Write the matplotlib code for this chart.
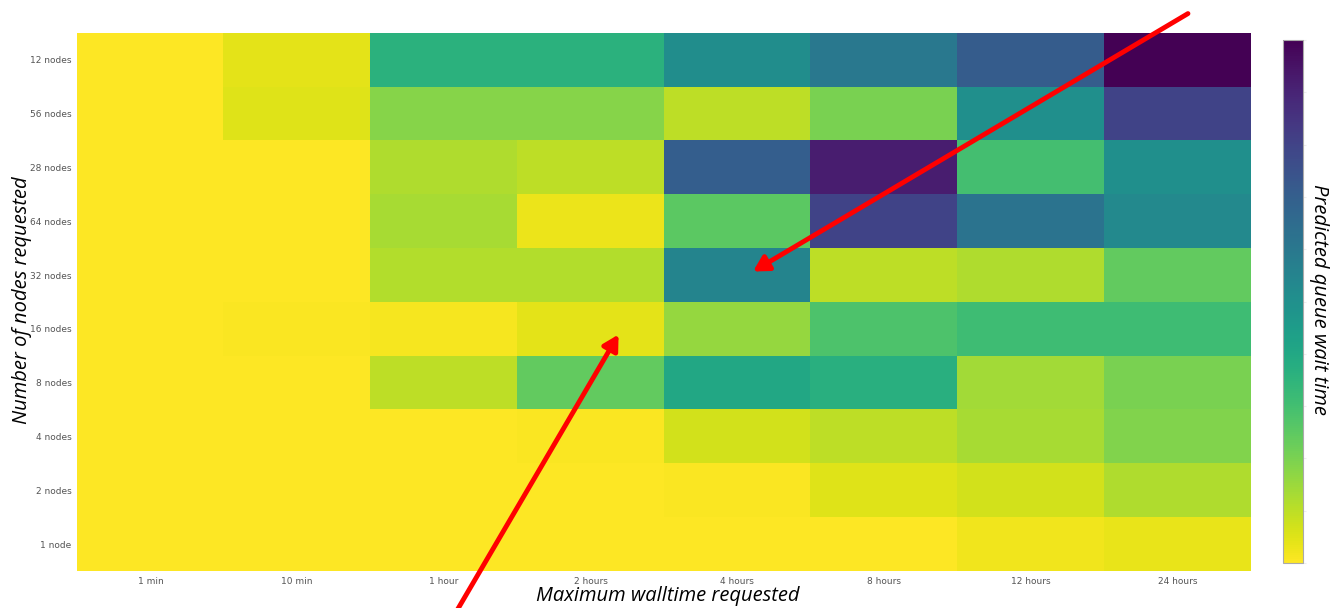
import numpy as np
import matplotlib.pyplot as plt

# walltime columns, node rows (top to bottom as shown)
walltimes = ['1 min', '10 min', '1 hour', '2 hours', '4 hours', '8 hours', '12 hours', '24 hours']
nodes = ['12 nodes', '56 nodes', '28 nodes', '64 nodes', '32 nodes',
         '16 nodes', '8 nodes', '4 nodes', '2 nodes', '1 node']

# relative predicted wait (0 = short/yellow, 1 = long/purple), one list per row
wait_12 = [0.00, 0.04, 0.36, 0.36, 0.51, 0.60, 0.71, 1.00]
wait_56 = [0.00, 0.05, 0.18, 0.18, 0.10, 0.20, 0.50, 0.80]
wait_28 = [0.00, 0.00, 0.12, 0.10, 0.70, 0.92, 0.30, 0.50]
wait_64 = [0.00, 0.00, 0.13, 0.03, 0.25, 0.80, 0.62, 0.53]
wait_32 = [0.00, 0.00, 0.115, 0.115, 0.55, 0.10, 0.12, 0.24]
wait_16 = [0.00, 0.005, 0.015, 0.04, 0.16, 0.28, 0.31, 0.31]
wait_8 = [0.00, 0.00, 0.10, 0.24, 0.40, 0.37, 0.14, 0.20]
wait_4 = [0.00, 0.00, 0.00, 0.005, 0.07, 0.10, 0.13, 0.19]
wait_2 = [0.00, 0.00, 0.00, 0.00, 0.005, 0.05, 0.07, 0.12]
wait_1 = [0.00, 0.00, 0.00, 0.00, 0.00, 0.00, 0.02, 0.035]

grid = np.array([wait_12, wait_56, wait_28, wait_64, wait_32,
                 wait_16, wait_8, wait_4, wait_2, wait_1])

fig = plt.figure(figsize=(13.3, 6.08), dpi=100)
ax = fig.add_axes([0.0579, 0.0609, 0.8827, 0.8848])
im = ax.imshow(grid, cmap='viridis_r', vmin=0, vmax=1, aspect='auto',
               interpolation='nearest')

ax.set_xticks(range(len(walltimes)))
ax.set_xticklabels(walltimes)
ax.set_yticks(range(len(nodes)))
ax.set_yticklabels(nodes)
ax.tick_params(length=0, labelsize=6.5, labelcolor='#555555', pad=4)
for s in ax.spines.values():
    s.set_visible(False)

# axis titles placed as figure text (italic, like the original)
lab_font = dict(family='Open Sans', style='italic', fontsize=14.5,
                ha='center', va='center')
fig.text(0.502, 0.019, 'Maximum walltime requested', **lab_font)
fig.text(0.0165, 0.507, 'Number of nodes requested', rotation=90, **lab_font)
fig.text(0.9915, 0.508, 'Predicted queue wait time', rotation=270, **lab_font)

cax = fig.add_axes([0.9647, 0.074, 0.015, 0.86])
cb = fig.colorbar(im, cax=cax)
cb.set_ticks(np.linspace(0, 1, 11))
cb.ax.tick_params(length=2, color='#eeeeee', labelright=False)
cb.outline.set_edgecolor('#aaaaaa')

# red arrows
arrow = dict(arrowstyle='-|>,head_length=0.9,head_width=0.5', color='red', lw=3.5)
ax.annotate('', xy=(4.09, 3.96), xycoords='data',
            xytext=(0.895, 0.98), textcoords='figure fraction',
            arrowprops=arrow, annotation_clip=False)
ax.annotate('', xy=(3.2, 5.06), xycoords='data',
            xytext=(0.342, -0.01), textcoords='figure fraction',
            arrowprops=arrow, annotation_clip=False)

fig.savefig('out.png', dpi=100)
